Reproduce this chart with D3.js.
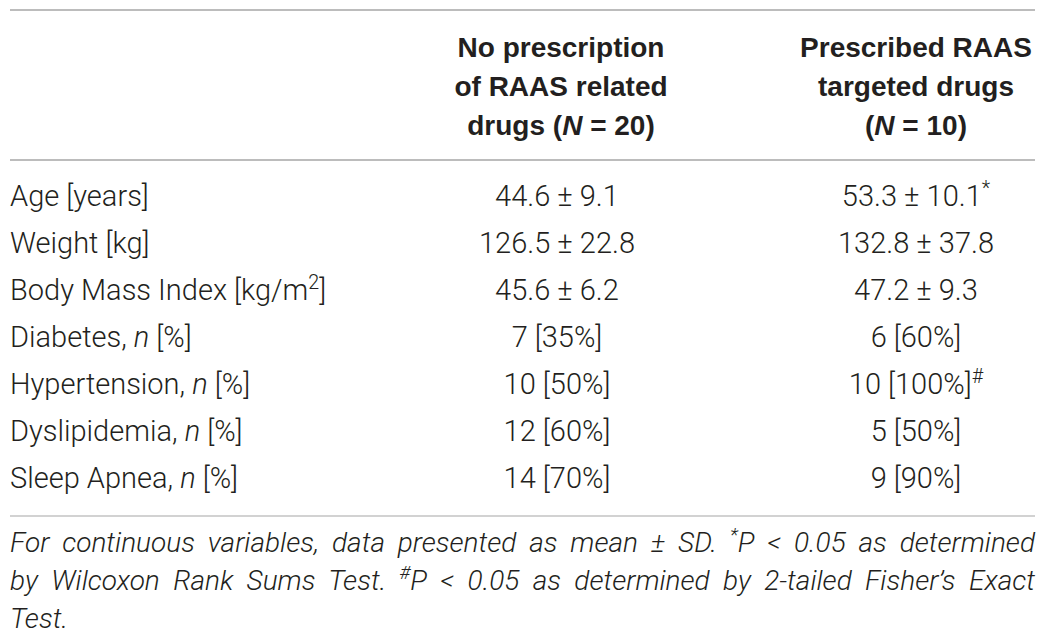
<!DOCTYPE html>
<html><head><meta charset="utf-8">
<script src="https://cdn.jsdelivr.net/npm/d3@7/dist/d3.min.js"></script>
<style>
body{margin:0;background:#fff}
svg text{fill:#231f20}
</style>
</head><body>
<svg id="chart" width="1050" height="640"></svg>
<script>
// ---- data (markup: _x_ italic, ^x^ superscript) ----
const columnKeys = ["label", "noRaas", "raas"];
const columnHeaders = [
  ["No prescription", "of RAAS related", "drugs (_N_ = 20)"],
  ["Prescribed RAAS", "targeted drugs", "(_N_ = 10)"]
];
const rowLabels = [
  "Age [years]",
  "Weight [kg]",
  "Body Mass Index [kg/m^2^]",
  "Diabetes, _n_ [%]",
  "Hypertension, _n_ [%]",
  "Dyslipidemia, _n_ [%]",
  "Sleep Apnea, _n_ [%]"
];
const noRaasValues = ["44.6 ± 9.1", "126.5 ± 22.8", "45.6 ± 6.2", "7 [35%]", "10 [50%]", "12 [60%]", "14 [70%]"];
const raasValues = ["53.3 ± 10.1^*^", "132.8 ± 37.8", "47.2 ± 9.3", "6 [60%]", "10 [100%]^#^", "5 [50%]", "9 [90%]"];
const footnoteLines = [
  "For continuous variables, data presented as mean ± SD. ^*^_P_ < 0.05 as determined",
  "by Wilcoxon Rank Sums Test. ^#^_P_ < 0.05 as determined by 2-tailed Fisher’s Exact",
  "Test."
];

// ---- layout ----
const left = 10, right = 1035;
const svg = d3.select("#chart");
const bodyFont = "Roboto, 'Liberation Sans', sans-serif";
const headFont = "'Liberation Sans', Arial, sans-serif";

const x = d3.scaleOrdinal().domain(columnKeys).range([left, 557, 916]);
const yRow = d3.scalePoint().domain(d3.range(rowLabels.length)).range([206, 488]);
const yHead = d3.scalePoint().domain(d3.range(3)).range([57, 135]);
const yFoot = d3.scalePoint().domain(d3.range(3)).range([552, 628]);

function parse(s) {
  const segs = [];
  const re = /(_[^_]+_|\^[^^]+\^)/g;
  let last = 0, m;
  while ((m = re.exec(s)) !== null) {
    if (m.index > last) segs.push({t: s.slice(last, m.index)});
    const tok = m[0];
    if (tok[0] === "_") segs.push({t: tok.slice(1, -1), it: true});
    else segs.push({t: tok.slice(1, -1), sup: true});
    last = m.index + tok.length;
  }
  if (last < s.length) segs.push({t: s.slice(last)});
  return segs;
}

function rich(sel, str, size) {
  const segs = parse(str);
  let up = false;
  segs.forEach(sg => {
    const ts = sel.append("tspan").text(sg.t);
    if (sg.it) ts.attr("font-style", "italic");
    if (sg.sup) {
      ts.attr("font-size", size * 0.68).attr("dy", -size * 0.38);
      up = true;
    } else if (up) {
      ts.attr("dy", size * 0.38);
      up = false;
    }
  });
  return sel;
}

// rules
const rules = [{y: 10, c: "#bcbcbc"}, {y: 160, c: "#bcbcbc"}, {y: 516, c: "#d2d2d2"}];
svg.selectAll("line.rule").data(rules).join("line")
  .attr("class", "rule")
  .attr("x1", left).attr("x2", right)
  .attr("y1", d => d.y).attr("y2", d => d.y)
  .attr("stroke", d => d.c).attr("stroke-width", 2);

// headers
columnHeaders.forEach((lines, ci) => {
  lines.forEach((ln, li) => {
    const t = svg.append("text")
      .attr("x", ci === 0 ? 561 : x(columnKeys[ci + 1])).attr("y", yHead(li))
      .attr("text-anchor", "middle")
      .attr("font-family", headFont).attr("font-weight", 700).attr("font-size", 28);
    rich(t, ln, 28);
  });
});

// body rows
const bodySize = 29;
function column(values, key, anchor) {
  values.forEach((v, i) => {
    const t = svg.append("text")
      .attr("x", x(key)).attr("y", yRow(i))
      .attr("text-anchor", anchor)
      .attr("font-family", bodyFont).attr("font-weight", 300).attr("font-size", bodySize);
    rich(t, v, bodySize);
  });
}
column(rowLabels, "label", "start");
column(noRaasValues, "noRaas", "middle");
column(raasValues, "raas", "middle");

// footnote (justified except last line)
const footSize = 28;
footnoteLines.forEach((ln, i) => {
  const t = svg.append("text")
    .attr("x", left).attr("y", yFoot(i))
    .attr("font-family", bodyFont).attr("font-weight", 300)
    .attr("font-style", "italic").attr("font-size", footSize);
  rich(t, ln, footSize);
  if (i < footnoteLines.length - 1) {
    const len = t.node().getComputedTextLength();
    const spaces = (ln.match(/ /g) || []).length;
    const extra = (right - left) - len;
    if (extra >= 0) t.style("word-spacing", (extra / spaces) + "px");
    else t.attr("textLength", right - left).attr("lengthAdjust", "spacingAndGlyphs");
  }
});
</script>
</body></html>
